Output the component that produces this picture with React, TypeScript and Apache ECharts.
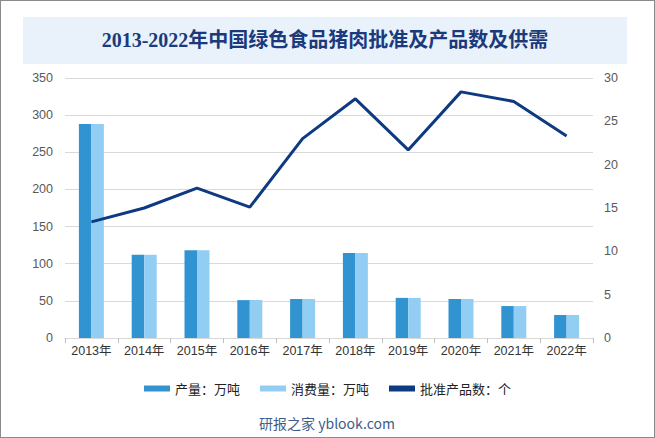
import React, { useEffect, useRef } from "react";
import * as echarts from "echarts";

const years = ["2013年", "2014年", "2015年", "2016年", "2017年", "2018年", "2019年", "2020年", "2021年", "2022年"];
const production = [288, 112, 118, 51, 52.5, 114.5, 54, 52.5, 43, 31];
const consumption = [288, 112, 118, 51, 52.5, 114.5, 54, 52.5, 43, 31];
const approved = [13.4, 15.0, 17.3, 15.1, 23.0, 27.6, 21.7, 28.4, 27.3, 23.3];
const seriesNames = ["产量：万吨", "消费量：万吨", "批准产品数：个"];
const titleText = "2013-2022年中国绿色食品猪肉批准及产品数及供需";
const watermark = "研报之家 yblook.com";

export default function App() {
  const ref = useRef<HTMLDivElement>(null);
  useEffect(() => {
    if (!ref.current) return;
    const chart = echarts.init(ref.current, undefined, { renderer: "svg" });
    const axisFont = "'Liberation Sans', Arial, 'Noto Sans CJK SC', sans-serif";
    chart.setOption({
      animation: false,
      backgroundColor: "#ffffff",
      graphic: [
        {
          type: "rect",
          shape: { x: 22, y: 16, width: 604, height: 47 },
          style: { fill: "#e9f1fb" },
          silent: true,
        },
        {
          type: "text",
          x: 324,
          y: 39,
          style: {
            text: titleText,
            fill: "#1a3a7c",
            font: "bold 20px 'Liberation Serif', 'Noto Sans CJK SC', serif",
            align: "center",
            verticalAlign: "middle",
          },
        },
        {
          type: "text",
          x: 326,
          y: 422,
          style: {
            text: watermark,
            fill: "#3d5d8c",
            font: "14px 'Noto Sans CJK SC', 'Liberation Sans', sans-serif",
            align: "center",
            verticalAlign: "middle",
          },
        },
      ],
      legend: {
        top: 376,
        left: "center",
        itemGap: 20,
        itemWidth: 26,
        itemHeight: 6,
        textStyle: { color: "#222", fontSize: 13, fontFamily: "'Noto Sans CJK SC', sans-serif" },
        data: [
          { name: seriesNames[0], icon: "rect" },
          { name: seriesNames[1], icon: "rect" },
          { name: seriesNames[2], icon: "rect", itemStyle: { color: "#0e3a82" } },
        ],
      },
      grid: { left: 64, right: 61, top: 77, bottom: 99 },
      xAxis: {
        type: "category",
        data: years,
        axisLine: { lineStyle: { color: "#d9d9d9" } },
        axisTick: { show: true, lineStyle: { color: "#bfbfbf" }, length: 5 },
        axisLabel: { color: "#333", fontSize: 12.5, fontFamily: axisFont, margin: 7 },
      },
      yAxis: [
        {
          type: "value",
          min: 0,
          max: 350,
          interval: 50,
          axisLine: { show: false },
          axisTick: { show: false },
          splitLine: { lineStyle: { color: "#d9d9d9" } },
          axisLabel: { color: "#595959", fontSize: 12.5, fontFamily: axisFont, margin: 12 },
        },
        {
          type: "value",
          min: 0,
          max: 30,
          interval: 5,
          axisLine: { show: false },
          axisTick: { show: false },
          splitLine: { show: false },
          axisLabel: { color: "#595959", fontSize: 12.5, fontFamily: axisFont, margin: 11 },
        },
      ],
      series: [
        {
          name: seriesNames[0],
          type: "bar",
          data: production,
          barWidth: 12.5,
          barGap: "0%",
          itemStyle: { color: "#3194d1" },
        },
        {
          name: seriesNames[1],
          type: "bar",
          data: consumption,
          barWidth: 12.5,
          barGap: "0%",
          itemStyle: { color: "#92cef3" },
        },
        {
          name: seriesNames[2],
          type: "line",
          yAxisIndex: 1,
          data: approved,
          symbol: "none",
          lineStyle: { color: "#0e3a82", width: 3 },
          itemStyle: { color: "#0e3a82" },
        },
      ],
    });
    return () => chart.dispose();
  }, []);
  return (
    <div
      style={{
        position: "absolute",
        left: 0,
        top: 0,
        width: 655,
        height: 438,
        boxSizing: "border-box",
        border: "1px solid #8a8a8a",
        background: "#fff",
      }}
    >
      <div ref={ref} style={{ width: 653, height: 436 }} />
    </div>
  );
}
